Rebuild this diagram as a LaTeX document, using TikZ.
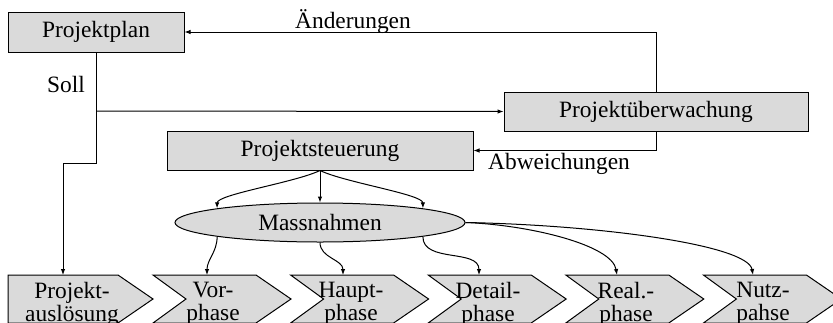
\documentclass[tikz,border=0pt]{standalone}
\usepackage{fontspec}
\setmainfont{Liberation Serif}
\usetikzlibrary{arrows.meta,shapes.geometric}
\definecolor{boxgray}{gray}{0.855}
\begin{document}
\begin{tikzpicture}[x=1pt,y=-1pt,
  every node/.style={font=\fontsize{23.4}{23}\selectfont, inner sep=0pt},
  plainbox/.style={draw, fill=boxgray, line width=1pt, rectangle},
  oval/.style={draw, fill=boxgray, line width=1pt, ellipse},
  chevron/.style={draw, fill=boxgray, line width=1pt, line join=miter},
  link/.style={line width=1pt, -{Latex[length=6pt,width=4.5pt]}},
  plain/.style={line width=1pt},
  phasetext/.style={align=center}]
\useasboundingbox (0,0) rectangle (833,322);

% control boxes
\node[plainbox, minimum width=176pt, minimum height=40pt] (plan) at (96,32) {Projektplan};
\node[plainbox, minimum width=304pt, minimum height=39pt] (ueber) at (656,111.5) {Projektüberwachung};
\node[plainbox, minimum width=306pt, minimum height=39pt] (steuer) at (320,150.5) {Projektsteuerung};
\node[oval, minimum width=290pt, minimum height=39pt] (mass) at (320,222.5) {Massnahmen};

% phase chevrons
\path[chevron] (8,275) -- (118,275) -- (153,299) -- (118,323) -- (8,323) -- cycle;
\foreach \l in {153,290.6,428.2,565.8,703.4}{
  \path[chevron] (\l,275) -- (\l+103,275) -- (\l+138,299) -- (\l+103,323)
     -- (\l,323) -- (\l+33,299) -- cycle;
}
\node[phasetext] (tproj) at (72,304) {Projekt-\\auslösung};
\node[phasetext] (tvor) at (213,304) {Vor-\\phase};
\node[phasetext] (thaupt) at (351,304) {Haupt-\\phase};
\node[phasetext] (tdetail) at (488,304) {Detail-\\phase};
\node[phasetext] (treal) at (626,304) {Real.-\\phase};
\node[phasetext] (tnutz) at (763,304) {Nutz-\\pahse};

% arrival points on the chevron tops
\coordinate (pproj) at (63,275);
\coordinate (pvor) at (207,275);
\coordinate (phaupt) at (343,275);
\coordinate (pdetail) at (479,275);
\coordinate (preal) at (617,275);
\coordinate (pnutz) at (753,275);

% plan / monitoring loop
\coordinate (branch) at (96,111);
\coordinate (jog) at (96,163);
\draw[plain] (plan.south) -- (branch);
\draw[link] (branch) -- (jog) -- (pproj |- jog) -- (pproj);
\draw[link] (branch) -- (ueber.west);
\draw[link] (ueber.north) |- (plan.east);
\draw[link] (ueber.south) |- (steuer.east);

\node[anchor=base] (soll) at (66,92) {Soll};
\node[anchor=base] (aend) at (353,28) {Änderungen};
\node[anchor=base] (abw) at (559,169) {Abweichungen};

% steering to measures
\draw[link] (steuer.south) .. controls +(-25,12) and +(0,-14) .. (mass.north west);
\draw[link] (steuer.south) -- (mass.north);
\draw[link] (steuer.south) .. controls +(25,12) and +(0,-14) .. (mass.north east);

% measures to phases
\draw[link] (mass.south west) to[out=-90, in=90] (pvor);
\draw[link] (mass.south) to[out=-90, in=90] (phaupt);
\draw[link] (mass.south east) to[out=-90, in=90] (pdetail);
\draw[link] (mass.east) .. controls (530,225) and (612,245) .. (preal);
\draw[link] (mass.east) .. controls (600,225) and (748,245) .. (pnutz);
\end{tikzpicture}
\end{document}
